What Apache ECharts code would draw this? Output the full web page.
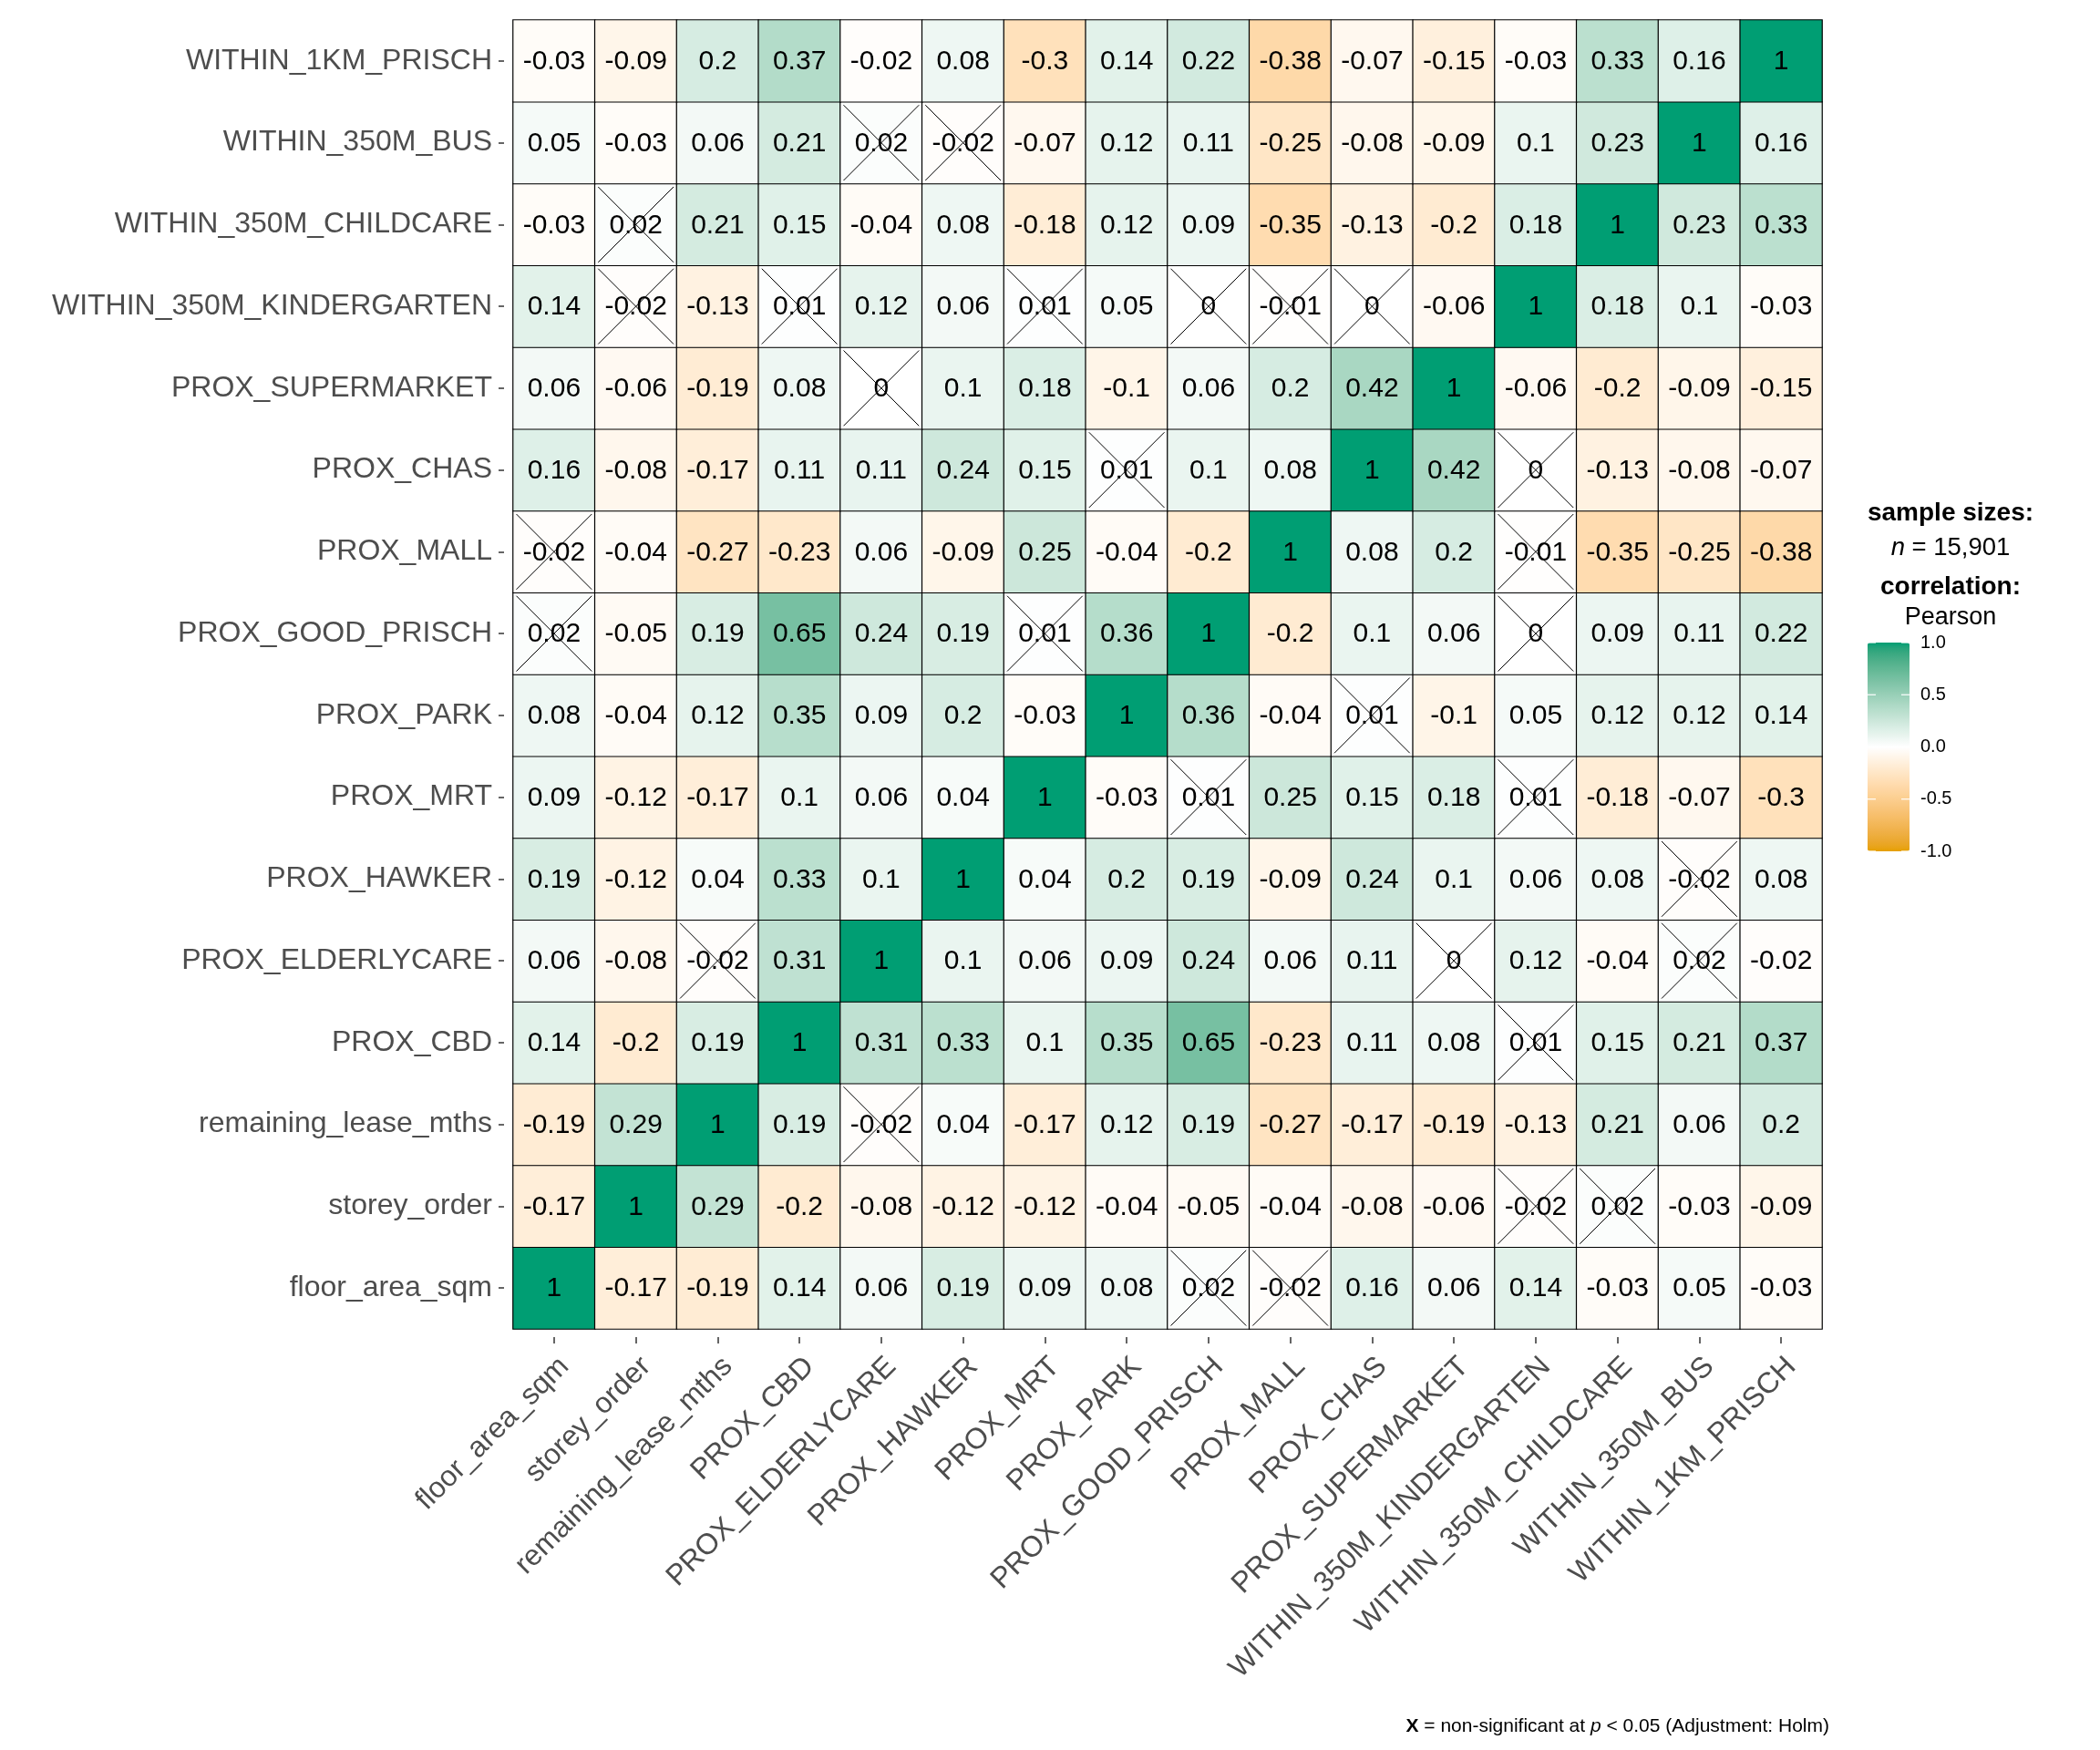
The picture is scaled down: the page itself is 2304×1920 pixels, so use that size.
<!DOCTYPE html>
<html>
<head>
<meta charset="utf-8">
<script src="https://cdn.jsdelivr.net/npm/echarts@6/dist/echarts.min.js"></script>
<style>
html,body{margin:0;padding:0;background:#fff;}
#chart{width:2304px;height:1920px;}
</style>
</head>
<body>
<div id="chart"></div>
<script>
// Variables (x axis left->right, y axis bottom->top)
const vars = ['floor_area_sqm','storey_order','remaining_lease_mths','PROX_CBD','PROX_ELDERLYCARE','PROX_HAWKER','PROX_MRT','PROX_PARK','PROX_GOOD_PRISCH','PROX_MALL','PROX_CHAS','PROX_SUPERMARKET','WITHIN_350M_KINDERGARTEN','WITHIN_350M_CHILDCARE','WITHIN_350M_BUS','WITHIN_1KM_PRISCH'];

// Correlation matrix, row i / column j in the order of vars
const corr = [
  [1, -0.17, -0.19, 0.14, 0.06, 0.19, 0.09, 0.08, 0.02, -0.02, 0.16, 0.06, 0.14, -0.03, 0.05, -0.03],
  [-0.17, 1, 0.29, -0.2, -0.08, -0.12, -0.12, -0.04, -0.05, -0.04, -0.08, -0.06, -0.02, 0.02, -0.03, -0.09],
  [-0.19, 0.29, 1, 0.19, -0.02, 0.04, -0.17, 0.12, 0.19, -0.27, -0.17, -0.19, -0.13, 0.21, 0.06, 0.2],
  [0.14, -0.2, 0.19, 1, 0.31, 0.33, 0.1, 0.35, 0.65, -0.23, 0.11, 0.08, 0.01, 0.15, 0.21, 0.37],
  [0.06, -0.08, -0.02, 0.31, 1, 0.1, 0.06, 0.09, 0.24, 0.06, 0.11, 0, 0.12, -0.04, 0.02, -0.02],
  [0.19, -0.12, 0.04, 0.33, 0.1, 1, 0.04, 0.2, 0.19, -0.09, 0.24, 0.1, 0.06, 0.08, -0.02, 0.08],
  [0.09, -0.12, -0.17, 0.1, 0.06, 0.04, 1, -0.03, 0.01, 0.25, 0.15, 0.18, 0.01, -0.18, -0.07, -0.3],
  [0.08, -0.04, 0.12, 0.35, 0.09, 0.2, -0.03, 1, 0.36, -0.04, 0.01, -0.1, 0.05, 0.12, 0.12, 0.14],
  [0.02, -0.05, 0.19, 0.65, 0.24, 0.19, 0.01, 0.36, 1, -0.2, 0.1, 0.06, 0, 0.09, 0.11, 0.22],
  [-0.02, -0.04, -0.27, -0.23, 0.06, -0.09, 0.25, -0.04, -0.2, 1, 0.08, 0.2, -0.01, -0.35, -0.25, -0.38],
  [0.16, -0.08, -0.17, 0.11, 0.11, 0.24, 0.15, 0.01, 0.1, 0.08, 1, 0.42, 0, -0.13, -0.08, -0.07],
  [0.06, -0.06, -0.19, 0.08, 0, 0.1, 0.18, -0.1, 0.06, 0.2, 0.42, 1, -0.06, -0.2, -0.09, -0.15],
  [0.14, -0.02, -0.13, 0.01, 0.12, 0.06, 0.01, 0.05, 0, -0.01, 0, -0.06, 1, 0.18, 0.1, -0.03],
  [-0.03, 0.02, 0.21, 0.15, -0.04, 0.08, -0.18, 0.12, 0.09, -0.35, -0.13, -0.2, 0.18, 1, 0.23, 0.33],
  [0.05, -0.03, 0.06, 0.21, 0.02, -0.02, -0.07, 0.12, 0.11, -0.25, -0.08, -0.09, 0.1, 0.23, 1, 0.16],
  [-0.03, -0.09, 0.2, 0.37, -0.02, 0.08, -0.3, 0.14, 0.22, -0.38, -0.07, -0.15, -0.03, 0.33, 0.16, 1]
];

// Non-significant pairs (index pairs into vars), drawn with an X
const nonSig = [[14,4],[14,5],[13,1],[12,1],[12,3],[12,6],[12,8],[12,9],[12,10],[11,4],[10,7],[9,0],[8,0],[8,6],[4,2]];

// Colour scale end points
const lowColor = '#E69F00', midColor = '#FFFFFF', highColor = '#009E73';
const legendTicks = ['1.0','0.5','0.0','-0.5','-1.0'];

// ---- Lab interpolation (like ggplot's gradient2) ----
function hex2rgb(h){h=h.replace('#','');return [parseInt(h.substr(0,2),16),parseInt(h.substr(2,2),16),parseInt(h.substr(4,2),16)];}
function lin(c){c/=255;return c<=0.04045?c/12.92:Math.pow((c+0.055)/1.055,2.4);}
function unlin(c){const v=c<=0.0031308?12.92*c:1.055*Math.pow(c,1/2.4)-0.055;return Math.max(0,Math.min(255,Math.round(v*255)));}
const Xn=0.95047,Yn=1,Zn=1.08883;
function f(t){return t>0.008856?Math.cbrt(t):(7.787*t+16/116);}
function finv(t){return t>0.206893?t*t*t:(t-16/116)/7.787;}
function rgb2lab(rgb){const r=lin(rgb[0]),g=lin(rgb[1]),b=lin(rgb[2]);
  const X=0.4124*r+0.3576*g+0.1805*b,Y=0.2126*r+0.7152*g+0.0722*b,Z=0.0193*r+0.1192*g+0.9505*b;
  const fx=f(X/Xn),fy=f(Y/Yn),fz=f(Z/Zn);return [116*fy-16,500*(fx-fy),200*(fy-fz)];}
function lab2hex(lab){const fy=(lab[0]+16)/116,fx=fy+lab[1]/500,fz=fy-lab[2]/200;
  const X=Xn*finv(fx),Y=Yn*finv(fy),Z=Zn*finv(fz);
  const r=3.2406*X-1.5372*Y-0.4986*Z,g=-0.9689*X+1.8758*Y+0.0415*Z,b=0.0557*X-0.2040*Y+1.0570*Z;
  return '#'+[unlin(r),unlin(g),unlin(b)].map(v=>v.toString(16).padStart(2,'0')).join('');}
const labLow=rgb2lab(hex2rgb(lowColor)),labMid=rgb2lab(hex2rgb(midColor)),labHigh=rgb2lab(hex2rgb(highColor));
const stops=[];
for(let k=0;k<=40;k++){const v=-1+k/20;let a,b,t;
  if(v<=0){a=labLow;b=labMid;t=v+1;}else{a=labMid;b=labHigh;t=v;}
  stops.push(lab2hex([a[0]+(b[0]-a[0])*t,a[1]+(b[1]-a[1])*t,a[2]+(b[2]-a[2])*t]));}

// ---- Build series data ----
const heatData=[];
for(let j=0;j<vars.length;j++){for(let i=0;i<vars.length;i++){heatData.push([i,j,corr[j][i]]);}}
const crossData=[];
nonSig.forEach(p=>{crossData.push([p[0],p[1]]);crossData.push([p[1],p[0]]);});

const FONT='"Liberation Sans", Arial, Helvetica, sans-serif';
const chart=echarts.init(document.getElementById('chart'),null,{renderer:'canvas'});

const gridLeft=563,gridTop=22,gridSize=1436;
const cbLeft=2049,cbTop=705,cbW=46,cbH=229;
const legendCx=2140;

const graphics=[
  {type:'text',x:legendCx,y:563,style:{text:'sample sizes:',font:'bold 28px '+FONT,fill:'#000',textAlign:'center',textVerticalAlign:'middle'}},
  {type:'text',x:legendCx,y:601,style:{text:'{i|n} = 15,901',rich:{i:{fontStyle:'italic',fontSize:27.5,fontFamily:FONT,fill:'#000'}},font:'27.5px '+FONT,fill:'#000',textAlign:'center',textVerticalAlign:'middle'}},
  {type:'text',x:legendCx,y:644,style:{text:'correlation:',font:'bold 28px '+FONT,fill:'#000',textAlign:'center',textVerticalAlign:'middle'}},
  {type:'text',x:legendCx,y:678,style:{text:'Pearson',font:'27px '+FONT,fill:'#000',textAlign:'center',textVerticalAlign:'middle'}},
  {type:'text',x:2007,y:1894,style:{text:'{b|X} = non-significant at {i|p} < 0.05 (Adjustment: Holm)',rich:{b:{fontWeight:'bold',fontSize:21,fontFamily:FONT,fill:'#000'},i:{fontStyle:'italic',fontSize:21,fontFamily:FONT,fill:'#000'}},font:'21px '+FONT,fill:'#000',textAlign:'right',textVerticalAlign:'middle'}}
];
legendTicks.forEach((t,k)=>{
  const y=cbTop+cbH*k/(legendTicks.length-1);
  graphics.push({type:'text',x:cbLeft+cbW+12,y:y,z:10,style:{text:t,font:'20px '+FONT,fill:'#000',textAlign:'left',textVerticalAlign:'middle'}});
  graphics.push({type:'line',z:10,shape:{x1:cbLeft,y1:y,x2:cbLeft+9,y2:y},style:{stroke:'#fff',lineWidth:1.2}});
  graphics.push({type:'line',z:10,shape:{x1:cbLeft+cbW-9,y1:y,x2:cbLeft+cbW,y2:y},style:{stroke:'#fff',lineWidth:1.2}});
});

chart.setOption({
  backgroundColor:'#fff',
  animation:false,
  textStyle:{fontFamily:FONT},
  grid:{left:gridLeft,top:gridTop,width:gridSize,height:gridSize,containLabel:false},
  xAxis:{type:'category',data:vars,position:'bottom',offset:9,
    axisLine:{show:false},
    axisTick:{show:true,alignWithLabel:true,interval:0,length:7,lineStyle:{color:'#333',width:1.5}},
    axisLabel:{interval:0,rotate:45,fontSize:32,color:'#4d4d4d',margin:16,fontFamily:FONT,verticalAlign:'top'},
    splitLine:{show:false},splitArea:{show:false}},
  yAxis:{type:'category',data:vars,offset:10,
    axisLine:{show:false},
    axisTick:{show:true,alignWithLabel:true,interval:0,length:6,lineStyle:{color:'#333',width:1.5}},
    axisLabel:{interval:0,fontSize:32,color:'#4d4d4d',margin:13,fontFamily:FONT},
    splitLine:{show:false},splitArea:{show:false}},
  visualMap:{type:'continuous',seriesIndex:0,min:-1,max:1,calculable:false,orient:'vertical',
    left:cbLeft,top:cbTop,itemWidth:cbW,itemHeight:cbH,padding:0,text:null,showLabel:false,
    inRange:{color:stops}},
  graphic:graphics,
  series:[
    {type:'heatmap',data:heatData,
      itemStyle:{borderColor:'#000',borderWidth:1.2},
      label:{show:true,fontSize:30,color:'#000',fontFamily:FONT,offset:[0,1],
        formatter:p=>String(p.value[2])},
      emphasis:{disabled:true}},
    {type:'custom',data:crossData,z:5,encode:{x:0,y:1},silent:true,
      renderItem:function(params,api){
        const c=api.coord([api.value(0),api.value(1)]);
        const s=api.size([1,1]);
        const hw=s[0]/2-3.5,hh=s[1]/2-3.5;
        return {type:'group',children:[
          {type:'line',shape:{x1:c[0]-hw,y1:c[1]-hh,x2:c[0]+hw,y2:c[1]+hh},style:{stroke:'#000',lineWidth:1}},
          {type:'line',shape:{x1:c[0]-hw,y1:c[1]+hh,x2:c[0]+hw,y2:c[1]-hh},style:{stroke:'#000',lineWidth:1}}
        ]};
      }}
  ]
});
</script>
</body>
</html>
